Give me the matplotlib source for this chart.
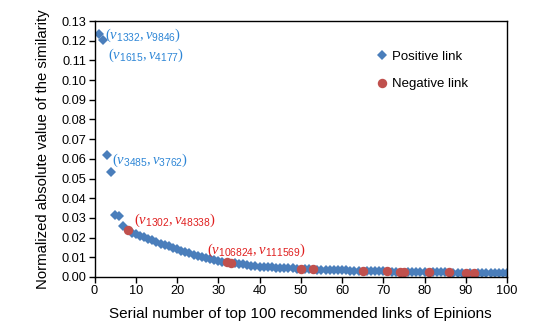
import numpy as np
import matplotlib
matplotlib.use("Agg")
import matplotlib.pyplot as plt

plt.rcParams['font.family'] = ['Liberation Sans', 'DejaVu Sans']
plt.rcParams['mathtext.fontset'] = 'custom'
plt.rcParams['mathtext.rm'] = 'Liberation Serif'
plt.rcParams['mathtext.it'] = 'Liberation Serif:italic'
plt.rcParams['mathtext.sf'] = 'Liberation Sans'

# similarity of the top 100 recommended links
sim = [0.1235, 0.1205, 0.0618, 0.0535, 0.0315, 0.0310, 0.0258, 0.0238, 0.0225, 0.0218,
       0.0210, 0.0203, 0.0195, 0.0187, 0.0178, 0.0170, 0.0163, 0.0155, 0.0148, 0.0141,
       0.0134, 0.0127, 0.0120, 0.0113, 0.0106, 0.0100, 0.0094, 0.0089, 0.0084, 0.0080,
       0.0077, 0.0075, 0.0073, 0.0070, 0.0067, 0.0064, 0.0061, 0.0058, 0.0055, 0.0053,
       0.0051, 0.0050, 0.0049, 0.0048, 0.0047, 0.0046, 0.0045, 0.0044, 0.0043, 0.0042,
       0.0041, 0.0040, 0.0039, 0.0038, 0.0037, 0.0036, 0.0035, 0.0035, 0.0034, 0.0033,
       0.0033, 0.0032, 0.0032, 0.0031, 0.0031, 0.0030, 0.0030, 0.0029, 0.0029, 0.0028,
       0.0028, 0.0027, 0.0027, 0.0027, 0.0026, 0.0026, 0.0026, 0.0025, 0.0025, 0.0025,
       0.0024, 0.0024, 0.0024, 0.0023, 0.0023, 0.0023, 0.0022, 0.0022, 0.0022, 0.0021,
       0.0021, 0.0021, 0.0020, 0.0020, 0.0020, 0.0020, 0.0019, 0.0019, 0.0019, 0.0019]
# serial numbers of negative links
neg_idx = [8, 32, 33, 50, 53, 65, 71, 74, 75, 81, 86, 90, 92]

serial = np.arange(1, len(sim) + 1)
sim = np.array(sim)
is_neg = np.isin(serial, neg_idx)

blue = '#4a7ebb'
red = '#c0504d'

fig = plt.figure(figsize=(5.38, 3.34), dpi=100)
ax = fig.add_axes([0.1757, 0.1707, 0.7667, 0.7663])

ax.plot(serial[~is_neg], sim[~is_neg], 'D', color=blue, ms=5.2, mew=0, label='Positive link')
ax.plot(serial[is_neg], sim[is_neg], 'o', color=red, ms=6.8, mew=0, label='Negative link')

ax.set_xlim(0, 100)
ax.set_ylim(0, 0.13)
ax.set_xticks(np.arange(0, 101, 10))
ax.set_yticks(np.arange(0, 0.131, 0.01))
ax.set_yticklabels(['%.2f' % v for v in np.arange(0, 0.131, 0.01)])
ax.tick_params(direction='out', length=4, width=1, labelsize=9.2, pad=2)
for s in ax.spines.values():
    s.set_linewidth(1)

ax.set_xlabel('Serial number of top 100 recommended links of Epinions', fontsize=11, labelpad=7)
ax.set_ylabel('Normalized absolute value of the similarity', fontsize=10.7, labelpad=8)

# annotations
tblue = '#2e86d6'
tred = '#e02020'
fs = 10.5
ax.text(2.5, 0.1225, r'$(v_{\mathsf{1332}},v_{\mathsf{9846}})$', color=tblue, fontsize=fs, va='center')
ax.text(3.3, 0.1125, r'$(v_{\mathsf{1615}},v_{\mathsf{4177}})$', color=tblue, fontsize=fs, va='center')
ax.text(4.3, 0.0595, r'$(v_{\mathsf{3485}},v_{\mathsf{3762}})$', color=tblue, fontsize=fs, va='center')
ax.text(9.5, 0.0290, r'$(v_{\mathsf{1302}},v_{\mathsf{48338}})$', color=tred, fontsize=fs, va='center')
ax.text(27.3, 0.0137, r'$(v_{\mathsf{106824}},v_{\mathsf{111569}})$', color=tred, fontsize=fs, va='center')

ax.legend(loc='upper left', bbox_to_anchor=(0.685, 0.884), frameon=False, fontsize=9.5,
          borderpad=0, borderaxespad=0, handletextpad=0.3, labelspacing=1.15, handlelength=0.8)

fig.savefig('out.png', dpi=100)
